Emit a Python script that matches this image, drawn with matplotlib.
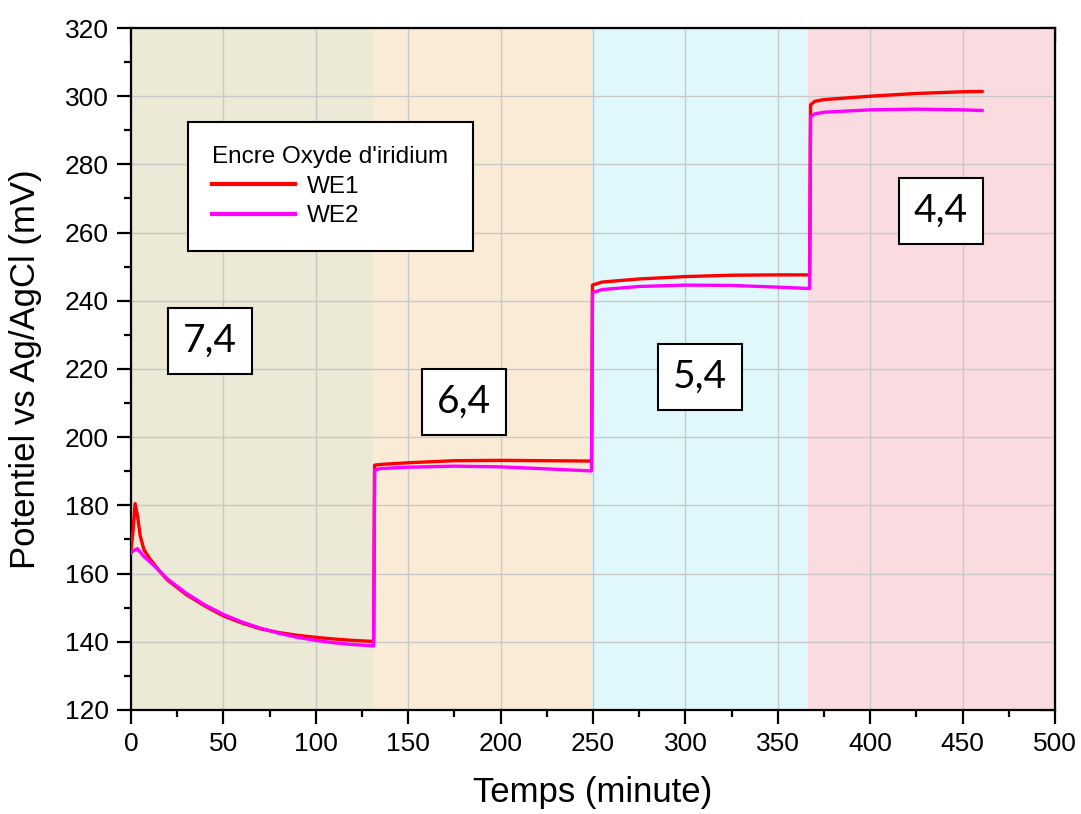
import matplotlib
matplotlib.use("Agg")
import matplotlib.pyplot as plt

plt.rcParams['font.family'] = ['Liberation Sans', 'DejaVu Sans']

# WE1 (red) readings, minutes / mV
t_we1 = [0, 1, 2.2, 3.5, 5, 7, 10, 15, 20, 30, 40, 50, 60, 70, 80, 90, 100, 110, 120, 131.3,
         131.8, 135, 150, 175, 200, 225, 249.2,
         249.7, 255, 275, 300, 325, 350, 367.2,
         367.7, 370, 375, 400, 425, 450, 460.5]
v_we1 = [167, 172, 180.5, 177, 171, 167, 164.5, 161, 158, 153.8, 150.5, 147.6, 145.5, 143.8, 142.7, 141.9, 141.3, 140.8, 140.4, 140.1,
         191.8, 192.0, 192.5, 193.1, 193.2, 193.1, 193.0,
         244.6, 245.5, 246.4, 247.1, 247.5, 247.6, 247.6,
         297.5, 298.5, 299.0, 300.0, 300.8, 301.3, 301.4]

# WE2 (magenta) readings
t_we2 = [0, 1, 3.5, 7, 10, 15, 20, 30, 40, 50, 60, 70, 80, 90, 100, 110, 120, 131.3,
         131.8, 135, 150, 175, 200, 225, 249.2,
         249.7, 255, 275, 300, 325, 350, 367.2,
         367.7, 370, 375, 400, 425, 450, 460.5]
v_we2 = [166, 166.6, 167.3, 165, 163.6, 161, 158.3, 154.2, 150.8, 148, 145.8, 144, 142.5, 141.3, 140.4, 139.7, 139.2, 138.8,
         190.3, 190.8, 191.2, 191.5, 191.3, 190.7, 190.1,
         242.4, 243.3, 244.2, 244.6, 244.5, 244.0, 243.6,
         294.0, 294.8, 295.3, 296.0, 296.2, 296.0, 295.8]

# pH zones
zone_edges = [0, 131, 249.5, 366.5, 500]
zone_colors = ['#ECE9D6', '#FAEBD7', '#E0F8FC', '#FADCE0']
zone_labels = ['7,4', '6,4', '5,4', '4,4']
label_x = [42.7, 180.2, 307.9, 438.3]
label_y = [228.2, 210.3, 217.7, 266.3]

fig = plt.figure(figsize=(10.81, 8.14), dpi=100)
ax = fig.add_axes([0.1212, 0.1278, 0.8548, 0.8378])

for i in range(len(zone_colors)):
    ax.axvspan(zone_edges[i], zone_edges[i + 1], color=zone_colors[i], zorder=0.1, lw=0)

ax.plot(t_we1, v_we1, color='#FF0000', lw=2.4, label='WE1', zorder=3)
ax.plot(t_we2, v_we2, color='#FF00FF', lw=2.4, label='WE2', zorder=3)

for lab, x, y in zip(zone_labels, label_x, label_y):
    ax.text(x, y, lab, fontsize=28, family=['Lato', 'DejaVu Sans'], ha='center', va='center', zorder=4,
            bbox=dict(boxstyle='square,pad=0.38', fc='white', ec='black', lw=1.5))

ax.set_xlim(0, 500)
ax.set_ylim(120, 320)
ax.set_xticks(range(0, 501, 50))
ax.set_yticks(range(120, 321, 20))
ax.set_xticks(range(25, 500, 50), minor=True)
ax.set_yticks(range(130, 320, 20), minor=True)
ax.set_axisbelow(True)
ax.grid(True, which='major', color='#C8C8C8', lw=1.0)

ax.tick_params(which='major', length=10, width=1.6, labelsize=19, direction='out', pad=6)
ax.tick_params(which='minor', length=5, width=1.6, direction='out')
for s in ax.spines.values():
    s.set_linewidth(1.6)

# mirrored ticks, pointing inward, on top and right
top = ax.secondary_xaxis('top')
top.set_xticks(range(0, 501, 50))
top.set_xticks(range(25, 500, 50), minor=True)
top.tick_params(which='major', length=10, width=1.6, direction='in', labeltop=False)
top.tick_params(which='minor', length=5, width=1.6, direction='in')
right = ax.secondary_yaxis('right')
right.set_yticks(range(120, 321, 20))
right.set_yticks(range(130, 320, 20), minor=True)
right.tick_params(which='major', length=10, width=1.6, direction='in', labelright=False)
right.tick_params(which='minor', length=5, width=1.6, direction='in')

ax.set_xlabel('Temps (minute)', fontsize=25, labelpad=14)
ax.set_ylabel('Potentiel vs Ag/AgCl (mV)', fontsize=25, labelpad=16)

leg = ax.legend(title="Encre Oxyde d'iridium", loc='upper left', bbox_to_anchor=(0.0617, 0.862),
                borderaxespad=0, fontsize=17.5, title_fontsize=17.5, fancybox=False,
                edgecolor='black', framealpha=1, handlelength=3.4, handletextpad=0.5,
                borderpad=1.0, labelspacing=0.3)
leg._legend_box.align = 'left'
leg.get_frame().set_linewidth(1.5)
for line in leg.get_lines():
    line.set_linewidth(3)

fig.savefig('out.png', dpi=100)
